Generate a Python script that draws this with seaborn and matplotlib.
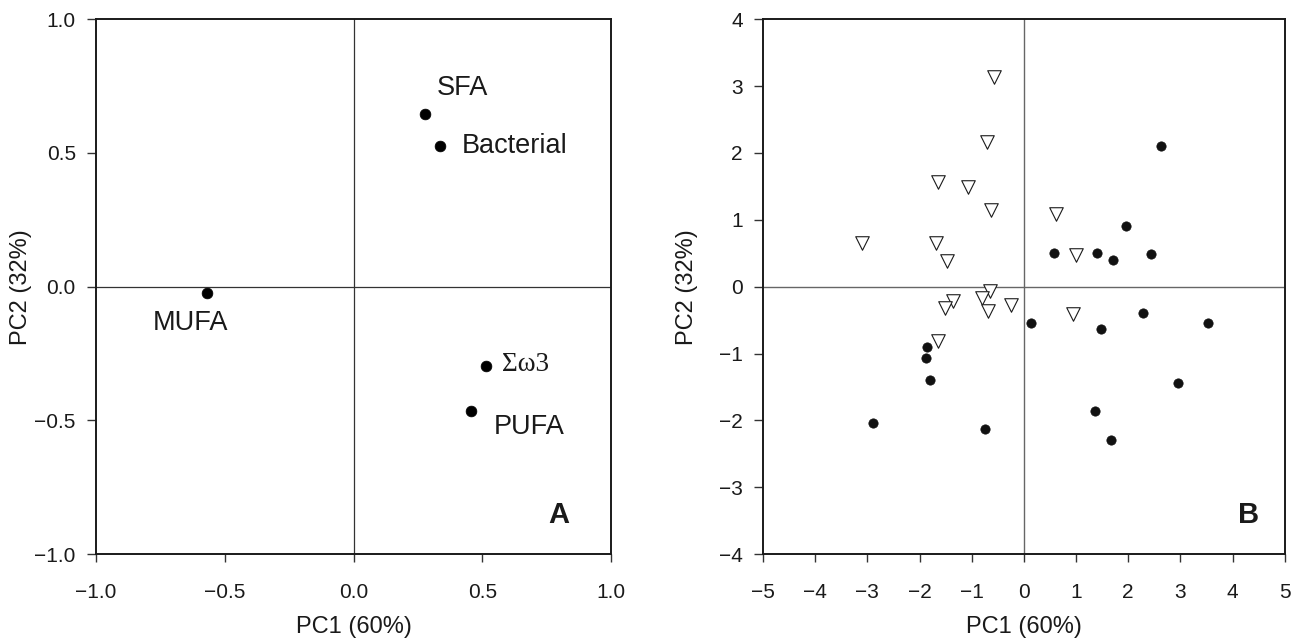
import numpy as np
import pandas as pd
import matplotlib
matplotlib.use("Agg")
import matplotlib.pyplot as plt
import seaborn as sns

# ---------------------------------------------------------
#                 DATA
# ---------------------------------------------------------

# Panel A: loadings
loading_names = ["SFA", "Bacterial", "MUFA", "\u03a3\u03c93", "PUFA"]
loading_pc1 = [0.278, 0.337, -0.568, 0.514, 0.454]
loading_pc2 = [0.646, 0.527, -0.023, -0.298, -0.466]

# Panel B: scores, open triangles
tri_pc1 = [-0.57, -0.70, -1.65, -1.07, -0.63, -3.11, -1.69, -1.47, -0.65,
           -1.35, -1.52, -0.81, -0.69, -0.24, -1.64, 0.61, 1.00, 0.94]
tri_pc2 = [3.14, 2.17, 1.56, 1.49, 1.15, 0.65, 0.66, 0.39, -0.07,
           -0.22, -0.32, -0.17, -0.37, -0.27, -0.81, 1.08, 0.48, -0.41]

# Panel B: scores, filled circles
dot_pc1 = [-1.86, -1.88, -1.80, -2.89, -0.75, 0.14, 2.62, 1.95, 0.57,
           1.40, 1.70, 2.43, 2.29, 1.47, 3.52, 2.95, 1.37, 1.67]
dot_pc2 = [-0.91, -1.07, -1.40, -2.04, -2.13, -0.54, 2.11, 0.91, 0.51,
           0.50, 0.40, 0.49, -0.39, -0.63, -0.54, -1.44, -1.86, -2.30]

# label offsets (points) for panel A
label_offsets = {
    "SFA": (8, 19),
    "Bacterial": (15.5, 0),
    "MUFA": (-39.5, -22),
    "\u03a3\u03c93": (11.5, 1.5),
    "PUFA": (17, -11),
}

# ---------------------------------------------------------
#                 STYLE
# ---------------------------------------------------------

sns.set_theme(style="ticks")
plt.rcParams["font.family"] = ["Liberation Sans", "DejaVu Sans"]
plt.rcParams["axes.linewidth"] = 1.4
plt.rcParams["axes.edgecolor"] = "#1a1a1a"
plt.rcParams["xtick.major.size"] = 5.5
plt.rcParams["ytick.major.size"] = 6.5
plt.rcParams["xtick.major.width"] = 1.0
plt.rcParams["ytick.major.width"] = 1.0
plt.rcParams["xtick.color"] = "#333333"
plt.rcParams["ytick.color"] = "#333333"
plt.rcParams["xtick.labelcolor"] = "#1a1a1a"
plt.rcParams["ytick.labelcolor"] = "#1a1a1a"

fig = plt.figure(figsize=(13.01, 6.42), dpi=100)
ax_a = fig.add_axes([0.0738, 0.137, 0.396, 0.833])
ax_b = fig.add_axes([0.5865, 0.137, 0.401, 0.833])

TICK_FS = 15
LABEL_FS = 17

# ---------------------------------------------------------
#                 PANEL A
# ---------------------------------------------------------

df_a = pd.DataFrame({"PC1": loading_pc1, "PC2": loading_pc2, "name": loading_names})
ax_a.axhline(0, color="#333333", lw=0.9, zorder=1)
ax_a.axvline(0, color="#333333", lw=0.9, zorder=1)
sns.scatterplot(data=df_a, x="PC1", y="PC2", ax=ax_a, color="black",
                s=60, edgecolor="black", linewidth=0.5, zorder=3)

for _, row in df_a.iterrows():
    fam = ["Liberation Serif", "DejaVu Serif"] if row["name"].startswith("\u03a3") else None
    ax_a.annotate(row["name"], (row["PC1"], row["PC2"]),
                  xytext=label_offsets[row["name"]], textcoords="offset points",
                  ha="left", va="center", fontsize=19.5, color="#1a1a1a",
                  family=fam)

a_ticks = np.arange(-1, 1.01, 0.5)
ax_a.set_xlim(-1, 1)
ax_a.set_ylim(-1, 1)
ax_a.set_xticks(a_ticks)
ax_a.set_yticks(a_ticks)
ax_a.set_xticklabels([f"{v:.1f}".replace("-", "\u2212") for v in a_ticks])
ax_a.set_yticklabels([f"{v:.1f}".replace("-", "\u2212") for v in a_ticks])
ax_a.text(0.877, 0.0725, "A", transform=ax_a.transAxes, fontsize=21,
          fontweight="bold", ha="left", va="center", color="#1a1a1a")

# ---------------------------------------------------------
#                 PANEL B
# ---------------------------------------------------------

df_tri = pd.DataFrame({"PC1": tri_pc1, "PC2": tri_pc2})
df_dot = pd.DataFrame({"PC1": dot_pc1, "PC2": dot_pc2})

ax_b.axhline(0, color="#666666", lw=1.0, zorder=1)
ax_b.axvline(0, color="#666666", lw=1.0, zorder=1)
sns.scatterplot(data=df_tri, x="PC1", y="PC2", ax=ax_b, marker="v",
                facecolor="white", edgecolor="#1a1a1a", linewidth=0.8,
                s=95, zorder=3)
sns.scatterplot(data=df_dot, x="PC1", y="PC2", ax=ax_b, color="#111111",
                edgecolor="#111111", linewidth=0.5, s=45, zorder=4)

ax_b.set_xlim(-5, 5)
ax_b.set_ylim(-4, 4)
ax_b.set_xticks(range(-5, 6))
ax_b.set_yticks(range(-4, 5))
ax_b.set_xticklabels([str(v).replace("-", "\u2212") for v in range(-5, 6)])
ax_b.set_yticklabels([str(v).replace("-", "\u2212") for v in range(-4, 5)])
ax_b.text(0.91, 0.073, "B", transform=ax_b.transAxes, fontsize=21,
          fontweight="bold", ha="left", va="center", color="#1a1a1a")

for ax in (ax_a, ax_b):
    ax.set_xlabel("PC1 (60%)", fontsize=LABEL_FS, color="#1a1a1a", va="center")
    ax.set_ylabel("PC2 (32%)", fontsize=LABEL_FS, color="#1a1a1a", va="center")
    ax.xaxis.set_label_coords(0.5, -0.136)
    ax.yaxis.set_label_coords(-0.145, 0.5)
    ax.tick_params(axis="x", labelsize=TICK_FS, pad=15)
    ax.tick_params(axis="y", labelsize=TICK_FS, pad=8)
    for sp in ax.spines.values():
        sp.set_visible(True)

fig.savefig("out.png", dpi=100)
